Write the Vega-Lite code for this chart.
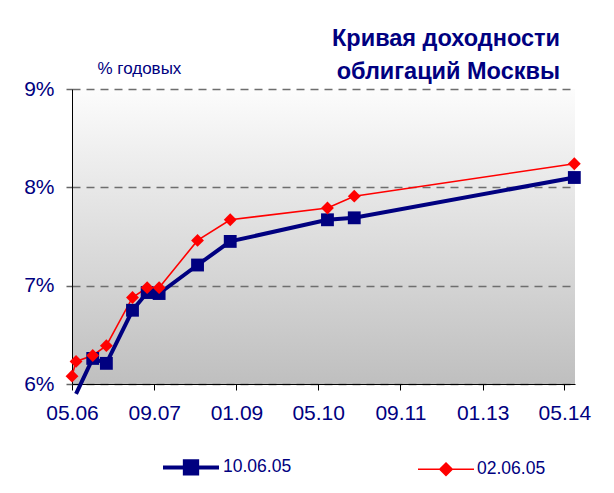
{
  "$schema": "https://vega.github.io/schema/vega-lite/v6.json",
  "width": 503,
  "height": 295,
  "autosize": {"type": "none"},
  "padding": {"left": 72, "top": 89, "right": 39, "bottom": 109},
  "background": "white",
  "config": {
    "font": "Liberation Sans",
    "view": {
      "stroke": null,
      "fill": {"gradient": "linear", "x1": 0, "y1": 0, "x2": 0, "y2": 1,
        "stops": [{"offset": 0, "color": "#fcfcfc"}, {"offset": 1, "color": "#bfbfbf"}]}
    }
  },
  "title": {
    "text": ["Кривая доходности", "облигаций Москвы"],
    "fontSize": 23.5,
    "fontWeight": "bold",
    "color": "#000080",
    "anchor": "end",
    "frame": "group",
    "dx": -15,
    "dy": 28,
    "offset": 4,
    "lineHeight": 33
  },
  "data": {
    "values": [
      {"series": "10.06.05", "date": "2006-05-25", "yield": 5.9},
      {"series": "10.06.05", "date": "2006-09-01", "yield": 6.26},
      {"series": "10.06.05", "date": "2006-11-21", "yield": 6.21},
      {"series": "10.06.05", "date": "2007-04-25", "yield": 6.75},
      {"series": "10.06.05", "date": "2007-07-21", "yield": 6.93},
      {"series": "10.06.05", "date": "2007-09-30", "yield": 6.92},
      {"series": "10.06.05", "date": "2008-05-15", "yield": 7.21},
      {"series": "10.06.05", "date": "2008-11-25", "yield": 7.45},
      {"series": "10.06.05", "date": "2010-06-25", "yield": 7.67},
      {"series": "10.06.05", "date": "2010-12-01", "yield": 7.69},
      {"series": "10.06.05", "date": "2014-06-29", "yield": 8.10},
      {"series": "02.06.05", "date": "2006-05-01", "yield": 6.08},
      {"series": "02.06.05", "date": "2006-05-25", "yield": 6.23},
      {"series": "02.06.05", "date": "2006-09-01", "yield": 6.29},
      {"series": "02.06.05", "date": "2006-11-21", "yield": 6.39},
      {"series": "02.06.05", "date": "2007-04-25", "yield": 6.88},
      {"series": "02.06.05", "date": "2007-07-21", "yield": 6.98},
      {"series": "02.06.05", "date": "2007-09-30", "yield": 6.98},
      {"series": "02.06.05", "date": "2008-05-15", "yield": 7.46},
      {"series": "02.06.05", "date": "2008-11-25", "yield": 7.67},
      {"series": "02.06.05", "date": "2010-06-25", "yield": 7.79},
      {"series": "02.06.05", "date": "2010-12-01", "yield": 7.91},
      {"series": "02.06.05", "date": "2014-06-29", "yield": 8.24}
    ]
  },
  "encoding": {
    "x": {
      "field": "date",
      "type": "temporal",
      "scale": {
        "type": "utc",
        "domain": [{"year": 2006, "month": 5, "date": 1, "utc": true}, {"year": 2014, "month": 7, "date": 3, "utc": true}],
        "nice": false
      },
      "axis": {
        "title": null,
        "values": [
          {"year": 2006, "month": 5, "date": 1, "utc": true},
          {"year": 2007, "month": 9, "date": 1, "utc": true},
          {"year": 2009, "month": 1, "date": 1, "utc": true},
          {"year": 2010, "month": 5, "date": 1, "utc": true},
          {"year": 2011, "month": 9, "date": 1, "utc": true},
          {"year": 2013, "month": 1, "date": 1, "utc": true},
          {"year": 2014, "month": 5, "date": 1, "utc": true}
        ],
        "format": "%m.%y",
        "grid": false,
        "labelFontSize": 21,
        "labelColor": "#000080",
        "labelPadding": 12,
        "labelFlush": false,
        "labelOverlap": false,
        "tickSize": 6,
        "tickColor": "#000000",
        "domainColor": "#000000",
        "domainWidth": 1
      }
    },
    "y": {
      "field": "yield",
      "type": "quantitative",
      "scale": {"domain": [6, 9], "nice": false, "zero": false},
      "axis": {
        "values": [6, 7, 8, 9],
        "labelExpr": "datum.value + '%'",
        "labelFontSize": 21,
        "labelColor": "#000080",
        "labelPadding": 12,
        "tickSize": 6,
        "tickColor": "#666666",
        "tickWidth": 1.5,
        "domainColor": "#000000",
        "domainWidth": 1,
        "grid": true,
        "gridColor": "#6e6e6e",
        "gridWidth": 1.5,
        "gridDash": [8, 6],
        "title": "% годовых",
        "titleAngle": 0,
        "titleX": 25,
        "titleY": -21,
        "titleAlign": "left",
        "titleBaseline": "middle",
        "titleFontSize": 17,
        "titleFontWeight": "normal",
        "titleColor": "#000080"
      }
    }
  },
  "layer": [
    {
      "mark": {"type": "line", "clip": false},
      "encoding": {
        "color": {
          "field": "series",
          "type": "nominal",
          "scale": {"domain": ["10.06.05", "02.06.05"], "range": ["#000080", "#ff0000"]},
          "legend": {
            "orient": "none",
            "legendX": 89,
            "legendY": 348,
            "direction": "horizontal",
            "title": null,
            "padding": 0,
            "symbolType": "M-1,0H1M-0.22,-0.22H0.22V0.22H-0.22Z",
            "symbolSize": 3136,
            "labelFontSize": 17.5,
            "labelColor": "#000080",
            "labelOffset": 2,
            "columnPadding": 122,
            "encode": {
              "symbols": {
                "update": {
                  "shape": {"signal": "datum.value === '10.06.05' ? 'M-1,0H1M-0.22,-0.22H0.22V0.22H-0.22Z' : 'M-1,0H1M0,-0.22L0.22,0L0,0.22L-0.22,0Z'"},
                  "strokeWidth": {"signal": "datum.value === '10.06.05' ? 3.5 : 1.5"},
                  "fill": {"signal": "datum.value === '10.06.05' ? '#000080' : '#ff0000'"},
                  "stroke": {"signal": "datum.value === '10.06.05' ? '#000080' : '#ff0000'"},
                  "opacity": {"value": 1},
                  "fillOpacity": {"value": 1}
                }
              }
            }
          }
        },
        "strokeWidth": {
          "field": "series",
          "type": "nominal",
          "scale": {"domain": ["10.06.05", "02.06.05"], "range": [4, 1.6]},
          "legend": null
        }
      }
    },
    {
      "transform": [{"filter": "datum.yield >= 6 && datum.series === '10.06.05'"}],
      "mark": {"type": "point", "shape": "square", "filled": true, "opacity": 1, "size": 165, "color": "#000080"},
      "encoding": {}
    },
    {
      "transform": [{"filter": "datum.yield >= 6 && datum.series === '02.06.05'"}],
      "mark": {"type": "point", "shape": "diamond", "filled": true, "opacity": 1, "size": 165, "color": "#ff0000"},
      "encoding": {}
    }
  ]
}
